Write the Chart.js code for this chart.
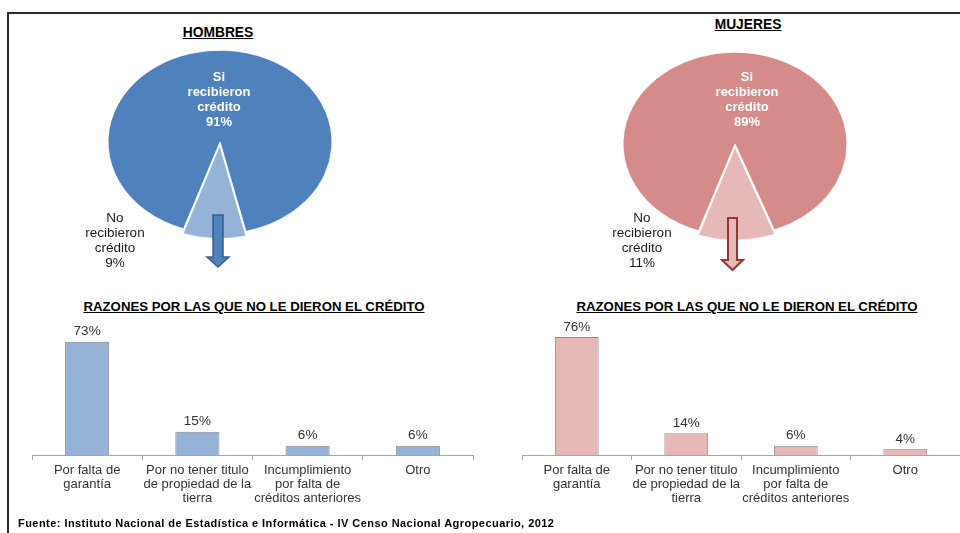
<!DOCTYPE html>
<html><head><meta charset="utf-8">
<script src="https://cdn.jsdelivr.net/npm/chart.js@4/dist/chart.umd.min.js"></script>
<style>
html,body{margin:0;padding:0;background:#fff;}
body{width:960px;height:533px;position:relative;overflow:hidden;font-family:"Liberation Sans",Arial,sans-serif;}
canvas{position:absolute;}
.t{position:absolute;font-weight:bold;text-decoration:underline;color:#000;white-space:nowrap;transform:translateX(-50%);line-height:16px;}
.line{position:absolute;background:#2b2b2b;}
#foot{position:absolute;left:18px;top:517px;font-size:11px;letter-spacing:0.45px;font-weight:bold;line-height:13px;white-space:nowrap;color:#000;}
</style></head>
<body>
<div class="line" style="left:7px;top:12px;width:953px;height:2px"></div>
<div class="line" style="left:7px;top:12px;width:2px;height:521px"></div>

<div class="t" style="left:218px;top:25px;font-size:13.8px">HOMBRES</div>
<div class="t" style="left:748px;top:17px;font-size:13.8px">MUJERES</div>
<div class="t" style="left:254px;top:299px;font-size:13.2px">RAZONES POR LAS QUE NO LE DIERON EL CRÉDITO</div>
<div class="t" style="left:747px;top:299px;font-size:13.2px">RAZONES POR LAS QUE NO LE DIERON EL CRÉDITO</div>

<canvas id="pieH" width="280" height="280" style="left:80px;top:2px"></canvas>
<canvas id="pieM" width="280" height="280" style="left:595px;top:4px"></canvas>
<canvas id="barH" width="480" height="233" style="left:0px;top:300px"></canvas>
<canvas id="barM" width="480" height="233" style="left:480px;top:300px"></canvas>

<div id="foot">Fuente: Instituto Nacional de Estadística e Informática - IV Censo Nacional Agropecuario, 2012</div>

<script>
// ---- data ----
const pieCategories = ['Si recibieron crédito', 'No recibieron crédito'];
const pieLabelLines = [['Si', 'recibieron', 'crédito'], ['No', 'recibieron', 'crédito']];
const hombresPie = [91, 9];
const mujeresPie = [89, 11];

const reasonLabels = [
  ['Por falta de', 'garantía'],
  ['Por no tener titulo', 'de propiedad de la', 'tierra'],
  ['Incumplimiento', 'por falta de', 'créditos anteriores'],
  ['Otro']
];
const hombresReasons = [73, 15, 6, 6];
const mujeresReasons = [76, 14, 6, 4];

Chart.defaults.font.family = "'Liberation Sans', Arial, sans-serif";

// ---- pie plugin: ellipse squash, arrow, labels ----
const ellipsePlugin = {
  id: 'ellipse',
  beforeDatasetsDraw(chart, args, opts) {
    const ctx = chart.ctx;
    const a = chart.getDatasetMeta(0).data[0];
    ctx.save();
    ctx.translate(a.x, a.y);
    ctx.scale(1, opts.ratio);
    ctx.translate(-a.x, -a.y);
  },
  afterDatasetsDraw(chart, args, opts) {
    const ctx = chart.ctx;
    ctx.restore();
    const a = chart.getDatasetMeta(0).data[0];
    const cx = a.x, cy = a.y;
    // arrow
    const ar = opts.arrow;
    const ax = cx + ar.dx, top = cy + ar.top, tip = cy + ar.tip, hs = tip - ar.head;
    ctx.save();
    ctx.beginPath();
    ctx.moveTo(ax - ar.sw, top);
    ctx.lineTo(ax + ar.sw, top);
    ctx.lineTo(ax + ar.sw, hs);
    ctx.lineTo(ax + ar.hw, hs);
    ctx.lineTo(ax, tip);
    ctx.lineTo(ax - ar.hw, hs);
    ctx.lineTo(ax - ar.sw, hs);
    ctx.closePath();
    ctx.fillStyle = ar.fill;
    ctx.fill();
    ctx.lineWidth = ar.lw;
    ctx.strokeStyle = ar.stroke;
    ctx.stroke();
    ctx.restore();
    // labels
    const data = chart.data.datasets[0].data;
    ctx.save();
    ctx.textAlign = 'center';
    ctx.textBaseline = 'middle';
    ctx.font = "bold 13px 'Liberation Sans', Arial, sans-serif";
    ctx.fillStyle = '#ffffff';
    pieLabelLines[0].concat([data[0] + '%']).forEach((l, i) => {
      ctx.fillText(l, cx + opts.inLabel.dx, cy + opts.inLabel.dy + i * 15);
    });
    ctx.font = "13.5px 'Liberation Sans', Arial, sans-serif";
    ctx.fillStyle = '#1a1a1a';
    pieLabelLines[1].concat([data[1] + '%']).forEach((l, i) => {
      ctx.fillText(l, cx + opts.outLabel.dx, cy + opts.outLabel.dy + i * 15);
    });
    ctx.restore();
  }
};

function pieConfig(values, colors, arrow, inLabel, outLabel) {
  return {
    type: 'pie',
    data: {
      labels: pieCategories,
      datasets: [{
        data: values,
        backgroundColor: colors,
        borderColor: '#ffffff',
        borderWidth: 1,
        offset: [0, 16],
        radius: 112
      }]
    },
    options: {
      responsive: false,
      animation: false,
      events: [],
      rotation: -161,
      plugins: {
        legend: { display: false },
        tooltip: { enabled: false },
        ellipse: { ratio: 0.82, arrow: arrow, inLabel: inLabel, outLabel: outLabel }
      }
    },
    plugins: [ellipsePlugin]
  };
}

new Chart(document.getElementById('pieH'), pieConfig(
  hombresPie, ['#4F81BD', '#95B3D7'],
  { dx: -2, top: 73, tip: 125, head: 10, sw: 5, hw: 11, fill: '#4F81BD', stroke: '#385D8A', lw: 1.5 },
  { dx: -1, dy: -65 }, { dx: -105, dy: 76 }
));
new Chart(document.getElementById('pieM'), pieConfig(
  mujeresPie, ['#D58B89', '#E6B9B8'],
  { dx: -2.5, top: 74, tip: 126, head: 10, sw: 4.5, hw: 10.5, fill: '#E6B9B8', stroke: '#953735', lw: 2 },
  { dx: 12, dy: -67 }, { dx: -93, dy: 74 }
));

// ---- bar value labels ----
const valueLabels = {
  id: 'valueLabels',
  afterDatasetsDraw(chart) {
    const ctx = chart.ctx;
    const data = chart.data.datasets[0].data;
    ctx.save();
    ctx.textAlign = 'center';
    ctx.textBaseline = 'middle';
    ctx.font = "13.5px 'Liberation Sans', Arial, sans-serif";
    ctx.fillStyle = '#333333';
    chart.getDatasetMeta(0).data.forEach((bar, i) => {
      ctx.fillText(data[i] + '%', bar.x, bar.y - 10);
    });
    ctx.restore();
  }
};

function barConfig(values, color, padLeft, padRight) {
  return {
    type: 'bar',
    data: {
      labels: reasonLabels,
      datasets: [{
        data: values,
        backgroundColor: color,
        borderColor: '#8C8C8C',
        borderWidth: 1,
        barPercentage: 0.4,
        categoryPercentage: 1
      }]
    },
    options: {
      responsive: false,
      animation: false,
      events: [],
      layout: { padding: { left: padLeft, right: padRight, top: 34, bottom: 25 } },
      plugins: { legend: { display: false }, tooltip: { enabled: false } },
      scales: {
        y: { display: false, min: 0, max: 78 },
        x: {
          grid: { drawOnChartArea: false, drawTicks: true, tickLength: 5, color: '#A6A6A6' },
          border: { display: true, color: '#A6A6A6' },
          ticks: {
            color: '#333333',
            font: { size: 13, lineHeight: '14px' },
            padding: 3,
            maxRotation: 0,
            autoSkip: false
          }
        }
      }
    },
    plugins: [valueLabels]
  };
}

new Chart(document.getElementById('barH'), barConfig(hombresReasons, '#95B3D7', 32, 7));
new Chart(document.getElementById('barM'), barConfig(mujeresReasons, '#E6B9B8', 42, 0));
</script>
</body></html>
